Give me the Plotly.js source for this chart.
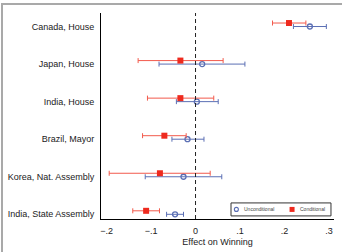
<!DOCTYPE html>
<html>
<head>
<meta charset="utf-8">
<script src="https://cdn.plot.ly/plotly-3.0.1.min.js"></script>
<style>
  html, body { margin: 0; padding: 0; background: #fff; }
  #frame { position: absolute; left: 1px; top: 3px; width: 341px; height: 249px;
           border-top: 2px solid #a9a9a9; border-left: 2px solid #a9a9a9; box-sizing: border-box; }
  #chart { position: absolute; left: 0; top: 0; width: 342px; height: 252px; }
</style>
</head>
<body>
<div id="chart"></div>
<div id="frame"></div>
<script>
// Races, listed from top to bottom
const races = ['Canada, House', 'Japan, House', 'India, House', 'Brazil, Mayor',
               'Korea, Nat. Assembly', 'India, State Assembly'];

// Unconditional estimates with confidence bounds
const uncond   = [0.257, 0.015, 0.003, -0.018, -0.027, -0.046];
const uncondLo = [0.220, -0.082, -0.043, -0.053, -0.113, -0.065];
const uncondHi = [0.294, 0.111, 0.051, 0.019, 0.059, -0.027];

// Conditional estimates with confidence bounds
const cond   = [0.210, -0.034, -0.034, -0.070, -0.080, -0.111];
const condLo = [0.173, -0.129, -0.108, -0.119, -0.194, -0.141];
const condHi = [0.248, 0.062, 0.041, -0.021, 0.033, -0.081];

const xTicks = [-0.2, -0.1, 0, 0.1, 0.2, 0.3];
const xTickText = ['\u2212.2', '\u2212.1', '0', '.1', '.2', '.3'];

const seriesNames = ['Unconditional', 'Conditional'];

const n = races.length;
const rowPos = races.map((_, i) => n - i);
const condShift = 0.093;

const RED = '#ee2a1e', RED_BAR = '#f25a4c';
const BLUE = '#5b6fb4', BLUE_BAR = '#5b6fb4';
const FONT = 'Liberation Sans, Arial, Helvetica, sans-serif';

const traces = [
  {
    type: 'scatter', mode: 'markers', name: seriesNames[0],
    x: uncond, y: rowPos,
    marker: { symbol: 'circle-open', size: 5, color: BLUE, line: { width: 1.3, color: BLUE } },
    error_x: { type: 'data', symmetric: false,
      array: uncond.map((v, i) => uncondHi[i] - v),
      arrayminus: uncond.map((v, i) => v - uncondLo[i]),
      color: BLUE_BAR, thickness: 1, width: 2.5 },
    cliponaxis: false
  },
  {
    type: 'scatter', mode: 'markers', name: seriesNames[1],
    x: cond, y: rowPos.map(p => p + condShift),
    marker: { symbol: 'square', size: 6, color: RED },
    error_x: { type: 'data', symmetric: false,
      array: cond.map((v, i) => condHi[i] - v),
      arrayminus: cond.map((v, i) => v - condLo[i]),
      color: RED_BAR, thickness: 1, width: 2.5 },
    cliponaxis: false
  }
];

// Compact boxed key in the lower right corner of the plot area
const key = { x0: 0.558, x1: 0.987, y0: 0.015, y1: 0.078 };
const keyMid = (key.y0 + key.y1) / 2;

const layout = {
  width: 342, height: 252,
  margin: { l: 101, r: 8, t: 13, b: 33 },
  paper_bgcolor: '#fff', plot_bgcolor: '#fff',
  font: { family: FONT, size: 9, color: '#222' },
  showlegend: false,
  xaxis: {
    range: [-0.2124, 0.3112], tickvals: xTicks, ticktext: xTickText,
    showgrid: false, zeroline: false, showline: true, linecolor: '#000', linewidth: 1,
    ticks: '', ticklabelstandoff: 3,
    tickfont: { size: 9, color: '#222' },
    title: { text: 'Effect on Winning', font: { size: 9, color: '#222' }, standoff: 3 }
  },
  yaxis: {
    range: [0.875, 6.36], tickvals: rowPos, ticktext: races,
    showgrid: false, zeroline: false, showline: true, linecolor: '#000', linewidth: 1,
    ticks: '', ticklabelstandoff: 4,
    tickfont: { size: 9, color: '#222' }
  },
  shapes: [
    { type: 'line', xref: 'x', yref: 'paper', x0: 0, x1: 0, y0: 0, y1: 1,
      line: { color: '#222', width: 1, dash: '4px,3px' } },
    { type: 'rect', xref: 'paper', yref: 'paper', x0: key.x0, x1: key.x1, y0: key.y0, y1: key.y1,
      line: { color: '#333', width: 1 }, fillcolor: '#fff' },
    { type: 'circle', xref: 'paper', yref: 'paper', xsizemode: 'pixel', ysizemode: 'pixel',
      xanchor: 0.581, yanchor: keyMid, x0: -2, x1: 2, y0: -2, y1: 2,
      line: { color: BLUE, width: 1.1 }, fillcolor: 'rgba(0,0,0,0)' },
    { type: 'rect', xref: 'paper', yref: 'paper', xsizemode: 'pixel', ysizemode: 'pixel',
      xanchor: 0.820, yanchor: keyMid, x0: -2.5, x1: 2.5, y0: -2.5, y1: 2.5,
      line: { width: 0 }, fillcolor: RED }
  ],
  annotations: [
    { xref: 'paper', yref: 'paper', x: 0.606, y: keyMid, xanchor: 'left', yanchor: 'middle',
      text: seriesNames[0], showarrow: false, font: { size: 5, color: '#444' } },
    { xref: 'paper', yref: 'paper', x: 0.846, y: keyMid, xanchor: 'left', yanchor: 'middle',
      text: seriesNames[1], showarrow: false, font: { size: 5, color: '#444' } }
  ]
};

Plotly.newPlot('chart', traces, layout, { staticPlot: true, displayModeBar: false });
</script>
</body>
</html>
